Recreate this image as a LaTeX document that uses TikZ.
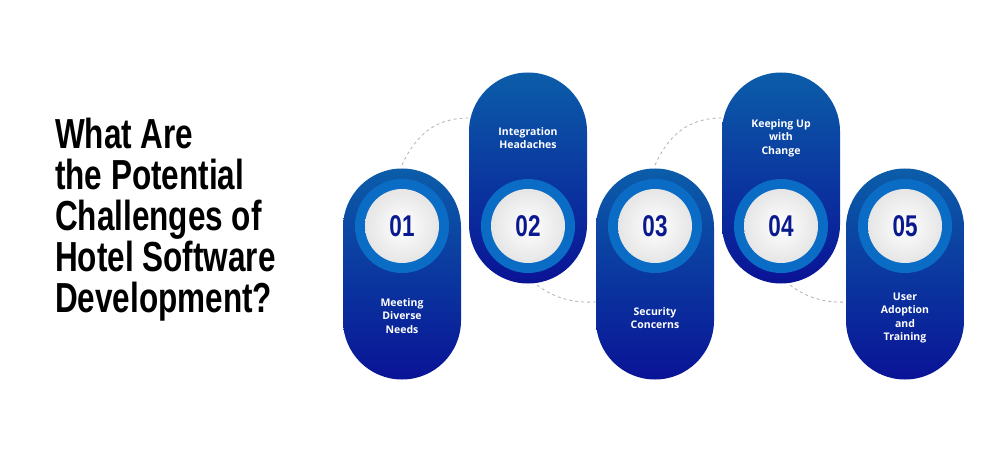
\documentclass[tikz,border=0pt]{standalone}
\usepackage{fontspec}
\setmainfont{Open Sans}
\newfontfamily\headfont{Liberation Sans}
\usetikzlibrary{positioning}
\definecolor{pilltop}{HTML}{0B5DA9}
\definecolor{pillbot}{HTML}{0A1396}
\definecolor{ringblue}{HTML}{0B6CC6}
\definecolor{numblue}{HTML}{0A1A8E}
\newcommand{\narrow}[1]{\scalebox{0.75}[1]{#1}}
\begin{document}
\begin{tikzpicture}[x=1pt,y=-1pt,
    pill/.style={rectangle,rounded corners=59pt,minimum width=118pt,minimum height=211pt,inner sep=0pt,top color=pilltop,bottom color=pillbot,draw=none},
    ring/.style={circle,fill=ringblue,minimum size=94pt,inner sep=0pt},
    disc/.style={circle,inner color=white,outer color=black!10,minimum size=74pt,inner sep=0pt,font=\headfont\bfseries\fontsize{30}{30}\selectfont,text=numblue},
    label/.style={align=center,text=white,font=\bfseries\fontsize{10.5}{13.5}\selectfont},
    link/.style={draw=black!30,dashed,thick},
]
\useasboundingbox (0,0) rectangle (1000,454);

% title
\node[anchor=north west,align=left,font=\headfont\bfseries\fontsize{42}{41}\selectfont,inner sep=0pt] (title) at (55,118)
  {\narrow{What Are}\\\narrow{the Potential}\\\narrow{Challenges of}\\\narrow{Hotel Software}\\\narrow{Development?}};

% dashed links
\draw[link] (402,165) .. controls (418,130) and (440,118) .. (469,118);
\draw[link] (537,285) .. controls (555,299) and (575,303) .. (596,302);
\draw[link] (655,165) .. controls (671,130) and (693,118) .. (722,118);
\draw[link] (790,285) .. controls (808,299) and (828,303) .. (847,302);

% pills
\node[pill] (p1) at (402,274) {};
\node[pill] (p2) at (528,178) {};
\node[pill] (p3) at (655,274) {};
\node[pill] (p4) at (781,178) {};
\node[pill] (p5) at (905,274) {};

\foreach \i/\x in {1/402,2/528,3/655,4/781,5/905}{
  \node[ring] (r\i) at (\x,226) {};
  \node[disc] (n\i) at (r\i) {\narrow{0\i}};
}

\node[label] (t1) at (402,316) {Meeting\\Diverse\\Needs};
\node[label] (t2) at (528,138) {Integration\\Headaches};
\node[label] (t3) at (655,318) {Security\\Concerns};
\node[label] (t4) at (781,138) {Keeping Up\\with\\Change};
\node[label] (t5) at (905,318) {User\\Adoption\\and\\Training};
\end{tikzpicture}
\end{document}
